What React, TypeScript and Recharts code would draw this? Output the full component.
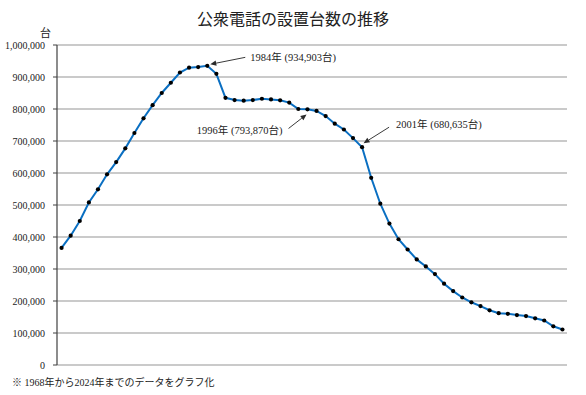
import React from "react";
import { LineChart, Line, XAxis, YAxis, CartesianGrid, ReferenceDot } from "recharts";

const years = [
  1968, 1969, 1970, 1971, 1972, 1973, 1974, 1975, 1976, 1977,
  1978, 1979, 1980, 1981, 1982, 1983, 1984, 1985, 1986, 1987,
  1988, 1989, 1990, 1991, 1992, 1993, 1994, 1995, 1996, 1997,
  1998, 1999, 2000, 2001, 2002, 2003, 2004, 2005, 2006, 2007,
  2008, 2009, 2010, 2011, 2012, 2013, 2014, 2015, 2016, 2017,
  2018, 2019, 2020, 2021, 2022, 2023,
];

const phones = [
  366000, 404000, 450000, 508000, 549000, 596000, 634000, 677000, 725000, 771000,
  812000, 850000, 882000, 914000, 929000, 931000, 934903, 910000, 835000, 828000,
  826000, 828000, 832000, 830000, 827000, 820000, 800000, 799000, 793870, 778000,
  754000, 736000, 709000, 680635, 585000, 504000, 442000, 393000, 361000, 330000,
  308000, 284000, 254000, 231000, 211000, 196000, 184000, 171000, 162000, 160000,
  156000, 153000, 146000, 139000, 121000, 111000,
];

const yTicks = [0, 100000, 200000, 300000, 400000, 500000, 600000, 700000, 800000, 900000, 1000000];

const annoYears = [1984, 1996, 2001];
const annoValues = [934903, 793870, 680635];
const annoLabels = ["1984年 (934,903台)", "1996年 (793,870台)", "2001年 (680,635台)"];

const title = "公衆電話の設置台数の推移";
const unitLabel = "台";
const footnote = "※ 1968年から2024年までのデータをグラフ化";

// layout offsets for annotations (relative to the data point)
const annoLayout = [
  { tip: [3, -1.5], tail: [38, -8.5], text: [43, -8.5], anchor: "start" },
  { tip: [-10, 3.5], tail: [-28, 17.5], text: [-34, 19.5], anchor: "end" },
  { tip: [1.5, -4], tail: [27, -20], text: [34, -23], anchor: "start" },
];

const data = years.map((y, i) => ({ year: y, value: phones[i] }));

const fmt = (v: number) => v.toLocaleString("en-US");

const FONT_NUM = "'Liberation Serif', 'Noto Sans CJK JP', serif";

function makeAnno(idx: number) {
  return (props: any) => {
    const { cx, cy } = props;
    if (cx == null || cy == null) return <g />;
    const L = annoLayout[idx];
    const x2 = cx + L.tip[0];
    const y2 = cy + L.tip[1];
    const x1 = cx + L.tail[0];
    const y1 = cy + L.tail[1];
    const dx = x2 - x1;
    const dy = y2 - y1;
    const len = Math.sqrt(dx * dx + dy * dy);
    const ux = dx / len;
    const uy = dy / len;
    const hl = 6;
    const hw = 2.6;
    const bx = x2 - ux * hl;
    const by = y2 - uy * hl;
    const p1 = `${x2},${y2}`;
    const p2 = `${bx - uy * hw},${by + ux * hw}`;
    const p3 = `${bx + uy * hw},${by - ux * hw}`;
    return (
      <g>
        <line x1={x1} y1={y1} x2={bx} y2={by} stroke="#3a3a3a" strokeWidth={1} />
        <polygon points={`${p1} ${p2} ${p3}`} fill="#2a2a2a" />
        <text
          x={cx + L.text[0]}
          y={cy + L.text[1]}
          textAnchor={L.anchor as any}
          dominantBaseline="central"
          fontFamily={FONT_NUM}
          fontSize={10.5}
          fill="#222"
        >
          {annoLabels[idx]}
        </text>
      </g>
    );
  };
}

const Dot = (props: any) => {
  const { cx, cy } = props;
  if (cx == null || cy == null) return <g />;
  return <circle cx={cx} cy={cy} r={2.1} fill="#000" />;
};

export default function App() {
  return (
    <div style={{ position: "absolute", left: 0, top: 0, width: 586, height: 395, background: "#fff" }}>
      <div
        style={{
          position: "absolute",
          left: 0,
          width: 586,
          top: 8,
          textAlign: "center",
          fontFamily: "'Noto Sans CJK JP', sans-serif",
          fontSize: 16,
          color: "#222",
          lineHeight: "20px",
          paddingLeft: 0,
        }}
      >
        {title}
      </div>
      <div
        style={{
          position: "absolute",
          left: 40,
          top: 25,
          fontFamily: "'Noto Sans CJK JP', sans-serif",
          fontSize: 11,
          color: "#222",
          lineHeight: "14px",
        }}
      >
        {unitLabel}
      </div>
      <div
        style={{
          position: "absolute",
          left: 12,
          top: 376,
          fontFamily: FONT_NUM,
          fontSize: 10,
          color: "#222",
          lineHeight: "14px",
          whiteSpace: "nowrap",
        }}
      >
        {footnote}
      </div>
      <LineChart
        width={586}
        height={395}
        data={data}
        margin={{ top: 45, right: 19, bottom: 30, left: 0 }}
        style={{ position: "absolute", left: 0, top: 0 }}
      >
        <CartesianGrid horizontal={true} vertical={false} stroke="#b8b8b8" strokeWidth={1.3} />
        <XAxis
          dataKey="year"
          type="number"
          domain={[1967.5, 2023.5]}
          hide
        />
        <YAxis
          width={57}
          domain={[0, 1000000]}
          ticks={yTicks}
          tickFormatter={fmt}
          interval={0}
          tickSize={4}
          tickMargin={8}
          axisLine={{ stroke: "#404040", strokeWidth: 1.2 }}
          tickLine={{ stroke: "#404040", strokeWidth: 1 }}
          tick={{ fontFamily: FONT_NUM, fontSize: 10, fill: "#222" }}
        />
        <Line
          type="linear"
          dataKey="value"
          stroke="#0a6fc2"
          strokeWidth={2}
          dot={<Dot />}
          activeDot={false}
          isAnimationActive={false}
        />
        {annoYears.map((y, i) => (
          <ReferenceDot
            key={y}
            x={y}
            y={annoValues[i]}
            r={3}
            ifOverflow="visible"
            shape={makeAnno(i)}
          />
        ))}
      </LineChart>
    </div>
  );
}
